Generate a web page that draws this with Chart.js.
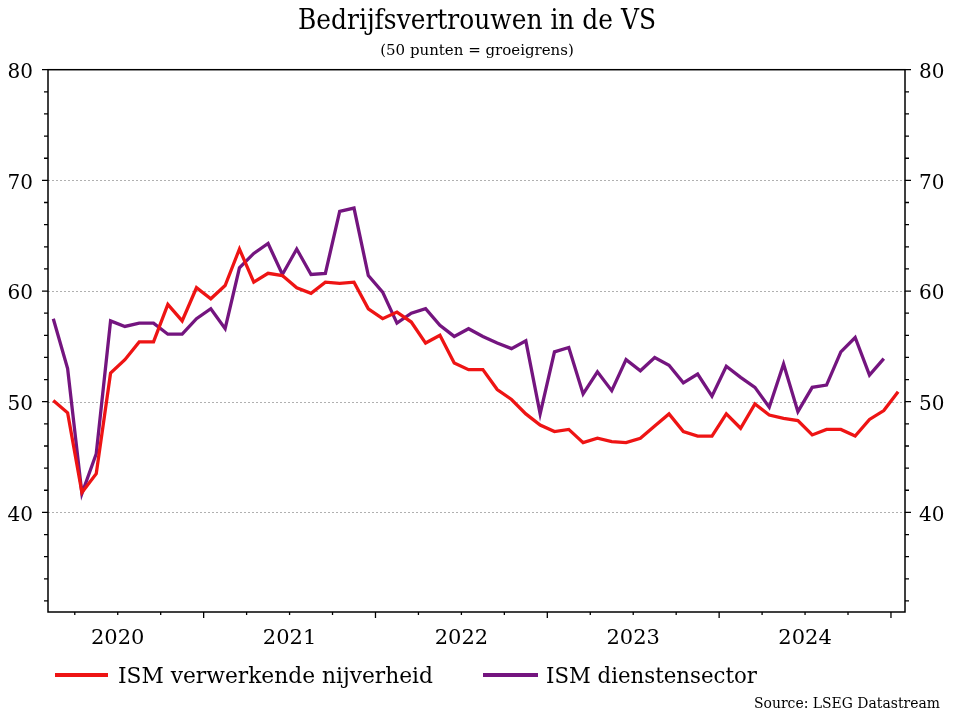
<!DOCTYPE html>
<html>
<head>
<meta charset="utf-8">
<script src="https://cdn.jsdelivr.net/npm/chart.js@4.4.1/dist/chart.umd.min.js"></script>
<style>
html,body{margin:0;padding:0;background:#ffffff;}
#wrap{width:953px;height:714px;position:relative;}
canvas{display:block;}
</style>
</head>
<body>
<div id="wrap"><canvas id="chart" width="953" height="714"></canvas></div>
<script>
// ---------- data ----------
const titleText = 'Bedrijfsvertrouwen in de VS';
const subtitleText = '(50 punten = groeigrens)';
const sourceText = 'Source: LSEG Datastream';
const seriesNames = ['ISM verwerkende nijverheid', 'ISM dienstensector'];
const seriesColors = ['#ee1414', '#74157f'];

const monthNames = ['jan','feb','mrt','apr','mei','jun','jul','aug','sep','okt','nov','dec'];
const firstYear = 2020;
const firstMonth = 1; // February 2020 (0 = January)

// ISM Manufacturing PMI, Feb 2020 - Jan 2025
const manufacturing = [
  50.1, 49.0, 41.8, 43.5, 52.6, 53.8, 55.4, 55.4, 58.8, 57.3, 60.3, 59.3,
  60.5, 63.8, 60.8, 61.6, 61.4, 60.3, 59.8, 60.8, 60.7, 60.8, 58.4, 57.5,
  58.1, 57.2, 55.3, 56.0, 53.5, 52.9, 52.9, 51.1, 50.2, 48.9, 47.9, 47.3,
  47.5, 46.3, 46.7, 46.4, 46.3, 46.7, 47.8, 48.9, 47.3, 46.9, 46.9, 48.9,
  47.6, 49.8, 48.8, 48.5, 48.3, 47.0, 47.5, 47.5, 46.9, 48.4, 49.2, 50.9
];
// ISM Services PMI, Feb 2020 - Dec 2024
const services = [
  57.5, 53.0, 41.7, 45.3, 57.3, 56.8, 57.1, 57.1, 56.1, 56.1, 57.5, 58.4,
  56.6, 62.1, 63.4, 64.3, 61.5, 63.8, 61.5, 61.6, 67.2, 67.5, 61.4, 59.9,
  57.1, 58.0, 58.4, 56.9, 55.9, 56.6, 55.9, 55.3, 54.8, 55.5, 48.9, 54.5,
  54.9, 50.7, 52.7, 51.0, 53.8, 52.8, 54.0, 53.3, 51.7, 52.5, 50.5, 53.2,
  52.2, 51.3, 49.5, 53.4, 49.1, 51.3, 51.5, 54.5, 55.8, 52.4, 53.9
];

const yearLabels = ['2020', '2021', '2022', '2023', '2024'];
const yLabelValues = [40, 50, 60, 70, 80];
const yMinorStep = 2;
const yMin = 31, yMax = 80;
const gridValues = [40, 50, 60, 70];

// month labels (categories)
const months = manufacturing.map((_, i) => {
  const m = firstMonth + i;
  return monthNames[m % 12] + ' ' + (firstYear + Math.floor(m / 12));
});

// x position = months since 1 Jan 2020, placed mid-month
const toPoints = arr => arr.map((v, i) => ({ x: firstMonth + i + 0.5, y: v, label: months[i] }));

const FONT = '"DejaVu Serif", "Liberation Serif", serif';

// ---------- custom drawing: frame, grid, ticks, title, legend ----------
const decor = {
  id: 'decor',
  beforeDatasetsDraw(chart) {
    const { ctx, chartArea: a, scales } = chart;
    const y = scales.y;
    ctx.save();
    ctx.strokeStyle = '#b0b0b0';
    ctx.lineWidth = 1;
    ctx.setLineDash([2, 2]);
    gridValues.forEach(v => {
      const py = Math.round(y.getPixelForValue(v)) + 0.5;
      ctx.beginPath(); ctx.moveTo(a.left, py); ctx.lineTo(a.right, py); ctx.stroke();
    });
    ctx.restore();
  },
  afterDraw(chart) {
    const { ctx, chartArea: a, scales } = chart;
    const x = scales.x, y = scales.y;
    ctx.save();
    ctx.strokeStyle = '#000';
    ctx.lineWidth = 1.5;
    ctx.setLineDash([]);
    ctx.strokeRect(a.left, a.top, a.right - a.left, a.bottom - a.top);
    // y ticks on both sides
    ctx.lineWidth = 1.3;
    for (let v = yMin + 1; v <= yMax; v += yMinorStep) {
      const py = y.getPixelForValue(v);
      const len = (v % 10 === 0) ? 6 : 4;
      ctx.beginPath();
      ctx.moveTo(a.left, py); ctx.lineTo(a.left - len, py);
      ctx.moveTo(a.right, py); ctx.lineTo(a.right + len, py);
      ctx.stroke();
    }
    // x ticks: quarters + years
    for (let t = 0; t <= 72; t += 3) {
      const px = x.getPixelForValue(t);
      if (px < a.left + 1 || px > a.right - 1) continue;
      const len = (t % 12 === 0) ? 6 : 3;
      ctx.beginPath(); ctx.moveTo(px, a.bottom); ctx.lineTo(px, a.bottom + len); ctx.stroke();
    }
    // title & subtitle
    ctx.fillStyle = '#000';
    ctx.textAlign = 'center';
    ctx.textBaseline = 'alphabetic';
    ctx.font = '27px ' + FONT;
    ctx.fillText(titleText, 477, 29, 358);
    ctx.font = '15px ' + FONT;
    ctx.fillText(subtitleText, 477, 55, 194);
    // legend
    const ds = chart.data.datasets;
    const legendPos = [{ x0: 55, x1: 108, tx: 118, w: 315 }, { x0: 483, x1: 538, tx: 546, w: 211 }];
    ds.forEach((d, i) => {
      const p = legendPos[i];
      ctx.strokeStyle = d.borderColor;
      ctx.lineWidth = 3.8;
      ctx.beginPath(); ctx.moveTo(p.x0, 675); ctx.lineTo(p.x1, 675); ctx.stroke();
      ctx.fillStyle = '#000';
      ctx.textAlign = 'left';
      ctx.font = '22px ' + FONT;
      ctx.fillText(d.label, p.tx, 683, p.w);
    });
    // source
    ctx.textAlign = 'right';
    ctx.font = '15px ' + FONT;
    ctx.fillText(sourceText, 940, 708, 186);
    ctx.restore();
  }
};

const yTickBuilder = scale => {
  const t = [];
  for (let v = yMin + 1; v <= yMax; v += yMinorStep) t.push({ value: v });
  scale.ticks = t;
};
const yTickLabel = v => (yLabelValues.includes(v) ? String(v) : '');

new Chart(document.getElementById('chart'), {
  type: 'line',
  data: {
    datasets: [
      { label: seriesNames[0], data: toPoints(manufacturing), borderColor: seriesColors[0], backgroundColor: seriesColors[0],
        borderWidth: 3.3, pointRadius: 0, tension: 0, fill: false },
      { label: seriesNames[1], data: toPoints(services), borderColor: seriesColors[1], backgroundColor: seriesColors[1],
        borderWidth: 3.3, pointRadius: 0, tension: 0, fill: false }
    ]
  },
  options: {
    responsive: false,
    animation: false,
    devicePixelRatio: 1,
    layout: { padding: { top: 69.7, left: 0, right: 0, bottom: 0 } },
    plugins: { legend: { display: false }, title: { display: false }, tooltip: { enabled: false } },
    scales: {
      x: {
        type: 'linear', position: 'bottom', min: 1.13, max: 60.98,
        grid: { display: false, drawTicks: false }, border: { display: false },
        afterBuildTicks: s => { s.ticks = yearLabels.map((_, k) => ({ value: 12 * k + 6 })); },
        afterFit: s => { s.height = 102; },
        ticks: { autoSkip: false, maxRotation: 0, padding: 14, color: '#000',
          font: { family: FONT, size: 21 },
          callback: (v, i) => yearLabels[i] }
      },
      y: {
        type: 'linear', position: 'left', min: yMin, max: yMax,
        grid: { display: false, drawTicks: false }, border: { display: false },
        afterBuildTicks: yTickBuilder,
        afterFit: s => { s.width = 48; },
        ticks: { autoSkip: false, padding: 15, labelOffset: 3, color: '#000',
          font: { family: FONT, size: 20 }, callback: yTickLabel }
      },
      y2: {
        type: 'linear', position: 'right', min: yMin, max: yMax,
        grid: { display: false, drawTicks: false }, border: { display: false },
        afterBuildTicks: yTickBuilder,
        afterFit: s => { s.width = 48; },
        ticks: { autoSkip: false, padding: 14, labelOffset: 3, color: '#000',
          font: { family: FONT, size: 20 }, callback: yTickLabel }
      }
    }
  },
  plugins: [decor]
});
</script>
</body>
</html>
